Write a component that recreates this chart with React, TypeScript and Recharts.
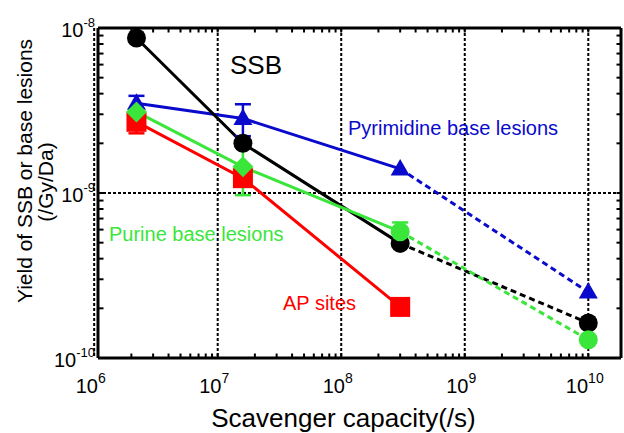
import React from 'react';
import { ComposedChart, Line, XAxis, YAxis, CartesianGrid, ErrorBar } from 'recharts';

// ---- data ----
const capacity = [2.2e6, 1.6e7, 3.0e8, 1.0e10];
const ssbYield = [8.7e-9, 2.0e-9, 4.95e-10, 1.63e-10];
const pyrimidineYield = [3.5e-9, 2.83e-9, 1.4e-9, 2.51e-10];
const purineYield = [3.1e-9, 1.44e-9, 5.83e-10, 1.29e-10];
const apSitesYield: (number | null)[] = [2.7e-9, 1.23e-9, 2.04e-10, null];
const pyrimidineErr: (number | null)[] = [0.38e-9, 0.62e-9, null, null];
const purineErr: (number | null)[] = [null, 0.47e-9, 0.8e-10, null];
const apSitesErr: (number | null)[] = [0.4e-9, null, null, null];
const ssbErr: (number | null)[] = [null, null, null, null];
const purineShapes = ['diamond', 'diamond', 'circle', 'circle'];
const lastMeasuredIndex = 2; // points after this are joined with dashed lines

const xTicks = [1e6, 1e7, 1e8, 1e9, 1e10];
const yTicks = [1e-10, 1e-9, 1e-8];
const xDomain = [1.074e6, 1.84e10];
const yDomain = [1e-10, 1e-8];
const mantissas = [1, 2, 3, 4, 5, 6, 7, 8, 9];
const yDecades = [1e-10, 1e-9];

const xMinor = xTicks
  .flatMap((d) => mantissas.map((m) => m * d))
  .filter((v) => v > xDomain[0] && v < xDomain[1]);
const yMinor = yDecades.flatMap((d) => mantissas.map((m) => m * d)).filter((v) => v > yDomain[0]);

const BLACK = '#000000';
const BLUE = '#0a0acc';
const GREEN = '#3ae63a';
const RED = '#ff0000';
const FONT = '"Liberation Sans", Arial, Helvetica, sans-serif';

type Series = {
  key: string;
  values: (number | null)[];
  err: (number | null)[];
  color: string;
  shapes: string[];
};

const series: Series[] = [
  { key: 'ap', values: apSitesYield, err: apSitesErr, color: RED, shapes: ['square', 'square', 'square', 'square'] },
  { key: 'pyr', values: pyrimidineYield, err: pyrimidineErr, color: BLUE, shapes: ['triangle', 'triangle', 'triangle', 'triangle'] },
  { key: 'ssb', values: ssbYield, err: ssbErr, color: BLACK, shapes: ['circle', 'circle', 'circle', 'circle'] },
  { key: 'pur', values: purineYield, err: purineErr, color: GREEN, shapes: purineShapes },
];

const lineOrder = ['pyr', 'ssb', 'ap', 'pur'];

type Row = Record<string, number | null | undefined>;

const pointRows: Row[] = capacity.map((x, i) => {
  const row: Row = { x, pointIndex: i };
  series.forEach((s) => {
    const v = s.values[i];
    row[s.key] = v;
    row[`${s.key}Solid`] = i <= lastMeasuredIndex ? v : null;
    row[`${s.key}Dash`] = i >= lastMeasuredIndex ? v : null;
    row[`${s.key}Err`] = s.err[i];
  });
  return row;
});

// rows carrying the minor tick marks of the four frame sides
const tickRows: Row[] = [
  ...xMinor.map((x) => ({ x, tickB: yDomain[0], tickT: yDomain[1] })),
  ...yMinor.map((y) => ({ x: xDomain[0], tickL: y })),
  ...yMinor.map((y) => ({ x: xDomain[1], tickR: y })),
];

const data = [...pointRows, ...tickRows].sort((a, b) => (a.x as number) - (b.x as number));

const makeDot = (s: Series) => (props: any) => {
  const { cx, cy, index, payload } = props;
  const key = `${s.key}-dot-${index}`;
  if (cx == null || cy == null || payload == null || payload[s.key] == null) return <g key={key} />;
  const shape = s.shapes[payload.pointIndex];
  if (shape === 'circle') return <circle key={key} cx={cx} cy={cy} r={9.5} fill={s.color} />;
  if (shape === 'square') return <rect key={key} x={cx - 10} y={cy - 10} width={20} height={20} fill={s.color} />;
  if (shape === 'diamond')
    return <path key={key} d={`M${cx},${cy - 10.5}L${cx + 10.5},${cy}L${cx},${cy + 10.5}L${cx - 10.5},${cy}Z`} fill={s.color} />;
  return <path key={key} d={`M${cx},${cy - 10}L${cx + 9.5},${cy + 6.5}L${cx - 9.5},${cy + 6.5}Z`} fill={s.color} />;
};

// tick-mark drawn at each carrier point, pointing into the plot (dx, dy)
const tickDot = (field: string, dx: number, dy: number) => (props: any) => {
  const { cx, cy, index, payload } = props;
  const key = `${field}-${index}`;
  if (cx == null || cy == null || payload == null || payload[field] == null) return <g key={key} />;
  return <line key={key} x1={cx} y1={cy} x2={cx + dx} y2={cy + dy} stroke="#000" strokeWidth={2} />;
};

const XTick = (props: any) => {
  const { x, y, payload } = props;
  const exp = Math.round(Math.log10(payload.value));
  return (
    <text x={x - 3.5} y={y + 35} textAnchor="middle" fontSize={20} fill="#000" fontFamily={FONT}>
      <tspan>10</tspan>
      <tspan dy={-10} fontSize={14}>{exp}</tspan>
    </text>
  );
};

const YTick = (props: any) => {
  const { x, y, payload } = props;
  const exp = Math.round(Math.log10(payload.value));
  return (
    <text x={x} y={y + 9} textAnchor="end" fontSize={20} fill="#000" fontFamily={FONT}>
      <tspan>10</tspan>
      <tspan dy={-10} fontSize={13}>{exp}</tspan>
    </text>
  );
};

const frame = { stroke: '#000', strokeWidth: 3 };

const tickCarriers = [
  { field: 'tickB', dx: 0, dy: -4.5 },
  { field: 'tickT', dx: 0, dy: 4.5 },
  { field: 'tickL', dx: 5.5, dy: 0 },
  { field: 'tickR', dx: -4.5, dy: 0 },
];

export default function App() {
  return (
    <div style={{ position: 'absolute', left: 0, top: 0, width: 624, height: 433, background: '#fff' }}>
      <ComposedChart width={624} height={433} data={data} margin={{ top: 28, right: 3, bottom: 0, left: 0 }}>
        <CartesianGrid xAxisId="main" yAxisId="main" stroke="#000" strokeWidth={2} strokeDasharray="3 2" fill="none" />
        <XAxis
          xAxisId="main"
          dataKey="x"
          type="number"
          scale="log"
          domain={xDomain}
          allowDataOverflow
          ticks={xTicks}
          interval={0}
          tick={<XTick />}
          tickLine={false}
          tickSize={0}
          tickMargin={0}
          axisLine={frame}
          height={75}
        />
        <XAxis
          xAxisId="frameTop"
          dataKey="x"
          type="number"
          scale="log"
          orientation="top"
          mirror
          domain={xDomain}
          allowDataOverflow
          tick={false}
          tickLine={false}
          axisLine={frame}
        />
        <YAxis
          yAxisId="main"
          type="number"
          scale="log"
          domain={yDomain}
          allowDataOverflow
          ticks={yTicks}
          interval={0}
          tick={<YTick />}
          tickLine={false}
          tickSize={0}
          tickMargin={3}
          width={98}
          axisLine={frame}
        />
        <YAxis
          yAxisId="frameRight"
          type="number"
          scale="log"
          orientation="right"
          mirror
          domain={yDomain}
          allowDataOverflow
          tick={false}
          tickLine={false}
          axisLine={frame}
        />
        {tickCarriers.map((t) => (
          <Line
            key={t.field}
            xAxisId="main"
            yAxisId="main"
            dataKey={t.field}
            stroke="none"
            strokeWidth={0}
            dot={tickDot(t.field, t.dx, t.dy)}
            activeDot={false}
            isAnimationActive={false}
            type="linear"
          />
        ))}
        {lineOrder.map((k) => {
          const s = series.find((q) => q.key === k)!;
          return [
            <Line
              key={`${k}-solid`}
              xAxisId="main"
              yAxisId="main"
              dataKey={`${k}Solid`}
              stroke={s.color}
              strokeWidth={3}
              connectNulls
              dot={false}
              activeDot={false}
              isAnimationActive={false}
              type="linear"
            />,
            <Line
              key={`${k}-dash`}
              xAxisId="main"
              yAxisId="main"
              dataKey={`${k}Dash`}
              stroke={s.color}
              strokeWidth={3}
              strokeDasharray="6 4"
              connectNulls
              dot={false}
              activeDot={false}
              isAnimationActive={false}
              type="linear"
            />,
          ];
        })}
        {series.map((s) => (
          <Line
            key={`${s.key}-markers`}
            xAxisId="main"
            yAxisId="main"
            dataKey={s.key}
            stroke="none"
            strokeWidth={0}
            dot={makeDot(s)}
            activeDot={false}
            isAnimationActive={false}
            type="linear"
          >
            <ErrorBar dataKey={`${s.key}Err`} direction="y" width={8} strokeWidth={2.5} stroke={s.color} />
          </Line>
        ))}
      </ComposedChart>
      <svg
        width={624}
        height={433}
        style={{ position: 'absolute', left: 0, top: 0, pointerEvents: 'none' }}
        fontFamily={FONT}
      >
        <text x={230} y={74} fontSize={26} fill="#000">SSB</text>
        <text x={348} y={135} fontSize={20} fill={BLUE}>Pyrimidine base lesions</text>
        <text x={109} y={241} fontSize={20} fill={GREEN}>Purine base lesions</text>
        <text x={283} y={310} fontSize={20} fill={RED}>AP sites</text>
        <text x={343.5} y={427} fontSize={26} fill="#000" textAnchor="middle">Scavenger capacity(/s)</text>
        <text transform="translate(32,171) rotate(-90)" fontSize={21} fill="#000" textAnchor="middle">
          Yield of SSB or base lesions
        </text>
        <text transform="translate(53,182) rotate(-90)" fontSize={21} fill="#000" textAnchor="middle">
          (/Gy/Da)
        </text>
      </svg>
    </div>
  );
}
